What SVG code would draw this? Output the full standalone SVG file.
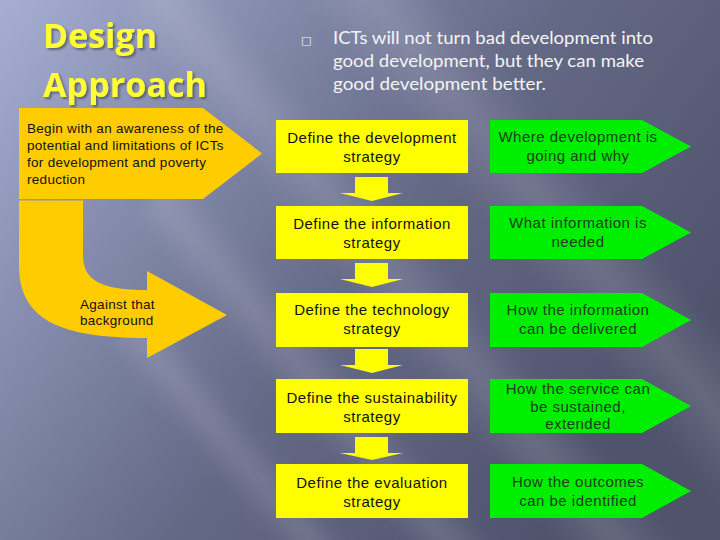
<svg xmlns="http://www.w3.org/2000/svg" width="720" height="540" viewBox="0 0 720 540">
  <defs>
    <linearGradient id="bg" x1="0" y1="0" x2="1" y2="0.55">
      <stop offset="0" stop-color="#a6aed2"/>
      <stop offset="0.3" stop-color="#838aab"/>
      <stop offset="0.6" stop-color="#646986"/>
      <stop offset="1" stop-color="#4f536c"/>
    </linearGradient>
    <linearGradient id="streak" x1="0" y1="0" x2="1" y2="0">
      <stop offset="0" stop-color="#ffffff" stop-opacity="0"/>
      <stop offset="0.5" stop-color="#ffffff" stop-opacity="0.13"/>
      <stop offset="1" stop-color="#ffffff" stop-opacity="0"/>
    </linearGradient>
    <filter id="blur" x="-20%" y="-20%" width="140%" height="140%">
      <feGaussianBlur stdDeviation="6"/>
    </filter>
    <filter id="tshadow" x="-10%" y="-20%" width="130%" height="150%">
      <feDropShadow dx="2" dy="2" stdDeviation="0.8" flood-color="#3a3d50" flood-opacity="0.6"/>
    </filter>
    <style>
      .title{font-family:"Open Sans","Liberation Sans",sans-serif;font-weight:bold;font-size:34px;fill:#ffff33}
      .bullet{font-family:"Lato","Open Sans",sans-serif;font-size:17.5px;fill:#f4f4f4}
      .left{font-family:"Liberation Sans",Arial,sans-serif;font-size:13.5px;letter-spacing:0.3px;fill:#111}
      .ybox{fill:#ffff00}
      .gbox{fill:#00ee00}
      .orange{fill:#ffcc00}
      .ytxt{font-family:"Liberation Sans",Arial,sans-serif;font-size:15px;letter-spacing:0.5px;fill:#111;text-anchor:middle}
      .gtxt{font-family:"Liberation Sans",Arial,sans-serif;font-size:15px;letter-spacing:0.5px;fill:#1f3f1f;text-anchor:middle}
      .down{fill:#ffff00}
    </style>
  </defs>

  <!-- background -->
  <rect x="0" y="0" width="720" height="540" fill="url(#bg)"/>
  <g filter="url(#blur)">
    <rect x="-100" y="-30" width="90" height="900" fill="url(#streak)" transform="rotate(-40 0 0) translate(180 120)"/>
    <rect x="-100" y="-30" width="70" height="900" fill="url(#streak)" transform="rotate(-40 0 0) translate(60 280)"/>
    <rect x="-100" y="-30" width="60" height="900" fill="url(#streak)" transform="rotate(-40 0 0) translate(-40 360)"/>
    <rect x="-100" y="-30" width="110" height="900" fill="url(#streak)" transform="rotate(-40 0 0) translate(330 40)"/>
  </g>

  <!-- title -->
  <g id="title" filter="url(#tshadow)">
    <text class="title" x="43" y="48" textLength="114" lengthAdjust="spacingAndGlyphs">Design</text>
    <text class="title" x="43" y="97" textLength="164" lengthAdjust="spacingAndGlyphs">Approach</text>
  </g>

  <!-- bullet text -->
  <g id="bullet">
    <text x="301" y="44" font-family="DejaVu Sans, sans-serif" font-size="11" fill="#f4f4f4">□</text>
    <text class="bullet" x="333" y="44" textLength="320" lengthAdjust="spacingAndGlyphs">ICTs will not turn bad development into</text>
    <text class="bullet" x="333" y="67" textLength="311" lengthAdjust="spacingAndGlyphs">good development, but they can make</text>
    <text class="bullet" x="333" y="90" textLength="213" lengthAdjust="spacingAndGlyphs">good development better.</text>
  </g>

  <!-- left arrows -->
  <g id="awareness">
    <polygon class="orange" points="19,108 203,108 262,153.5 203,199 19,199"/>
    <text class="left" x="27" y="133">Begin with an awareness of the</text>
    <text class="left" x="27" y="150">potential and limitations of ICTs</text>
    <text class="left" x="27" y="167">for development and poverty</text>
    <text class="left" x="27" y="184">reduction</text>
  </g>
  <g id="background-arrow">
    <path class="orange" d="M19,200.5 L83,200.5 L83,255 C83,280 100,290 147,290 L147,271 L227,315 L147,358 L147,338 C60,338 19,320 19,265 Z"/>
    <text class="left" x="80" y="309">Against that</text>
    <text class="left" x="80" y="325">background</text>
  </g>

  <!-- strategy boxes -->
  <g id="s1">
    <rect class="ybox" x="276" y="120" width="192" height="53"/>
    <text class="ytxt" x="372" y="143">Define the development</text>
    <text class="ytxt" x="372" y="162">strategy</text>
  </g>
  <g id="s2">
    <rect class="ybox" x="276" y="206" width="192" height="53"/>
    <text class="ytxt" x="372" y="229">Define the information</text>
    <text class="ytxt" x="372" y="248">strategy</text>
  </g>
  <g id="s3">
    <rect class="ybox" x="276" y="293" width="192" height="54"/>
    <text class="ytxt" x="372" y="315">Define the technology</text>
    <text class="ytxt" x="372" y="334">strategy</text>
  </g>
  <g id="s4">
    <rect class="ybox" x="276" y="379" width="192" height="54"/>
    <text class="ytxt" x="372" y="403">Define the sustainability</text>
    <text class="ytxt" x="372" y="422">strategy</text>
  </g>
  <g id="s5">
    <rect class="ybox" x="276" y="464" width="192" height="54"/>
    <text class="ytxt" x="372" y="488">Define the evaluation</text>
    <text class="ytxt" x="372" y="507">strategy</text>
  </g>

  <!-- green answers -->
  <g id="g1">
    <polygon class="gbox" points="490,120 642,120 691,146.5 642,173 490,173"/>
    <text class="gtxt" x="578" y="142">Where development is</text>
    <text class="gtxt" x="578" y="161">going and why</text>
  </g>
  <g id="g2">
    <polygon class="gbox" points="490,206 642,206 691,232.5 642,259 490,259"/>
    <text class="gtxt" x="578" y="228">What information is</text>
    <text class="gtxt" x="578" y="247">needed</text>
  </g>
  <g id="g3">
    <polygon class="gbox" points="490,293 642,293 691,320 642,347 490,347"/>
    <text class="gtxt" x="578" y="315">How the information</text>
    <text class="gtxt" x="578" y="334">can be delivered</text>
  </g>
  <g id="g4">
    <polygon class="gbox" points="490,379 642,379 691,406 642,433 490,433"/>
    <text class="gtxt" x="578" y="394">How the service can</text>
    <text class="gtxt" x="578" y="412">be sustained,</text>
    <text class="gtxt" x="578" y="429">extended</text>
  </g>
  <g id="g5">
    <polygon class="gbox" points="490,464 642,464 691,491 642,518 490,518"/>
    <text class="gtxt" x="578" y="487">How the outcomes</text>
    <text class="gtxt" x="578" y="506">can be identified</text>
  </g>

  <!-- connectors -->
  <g id="connectors">
    <polygon class="down" points="355,177 388,177 388,193 403,193 372,201 340,193 355,193"/>
    <polygon class="down" points="355,263 388,263 388,279 403,279 372,287 340,279 355,279"/>
    <polygon class="down" points="355,349 388,349 388,365 403,365 372,373 340,365 355,365"/>
    <polygon class="down" points="355,437 388,437 388,453 403,453 372,460 340,453 355,453"/>
  </g>
</svg>
